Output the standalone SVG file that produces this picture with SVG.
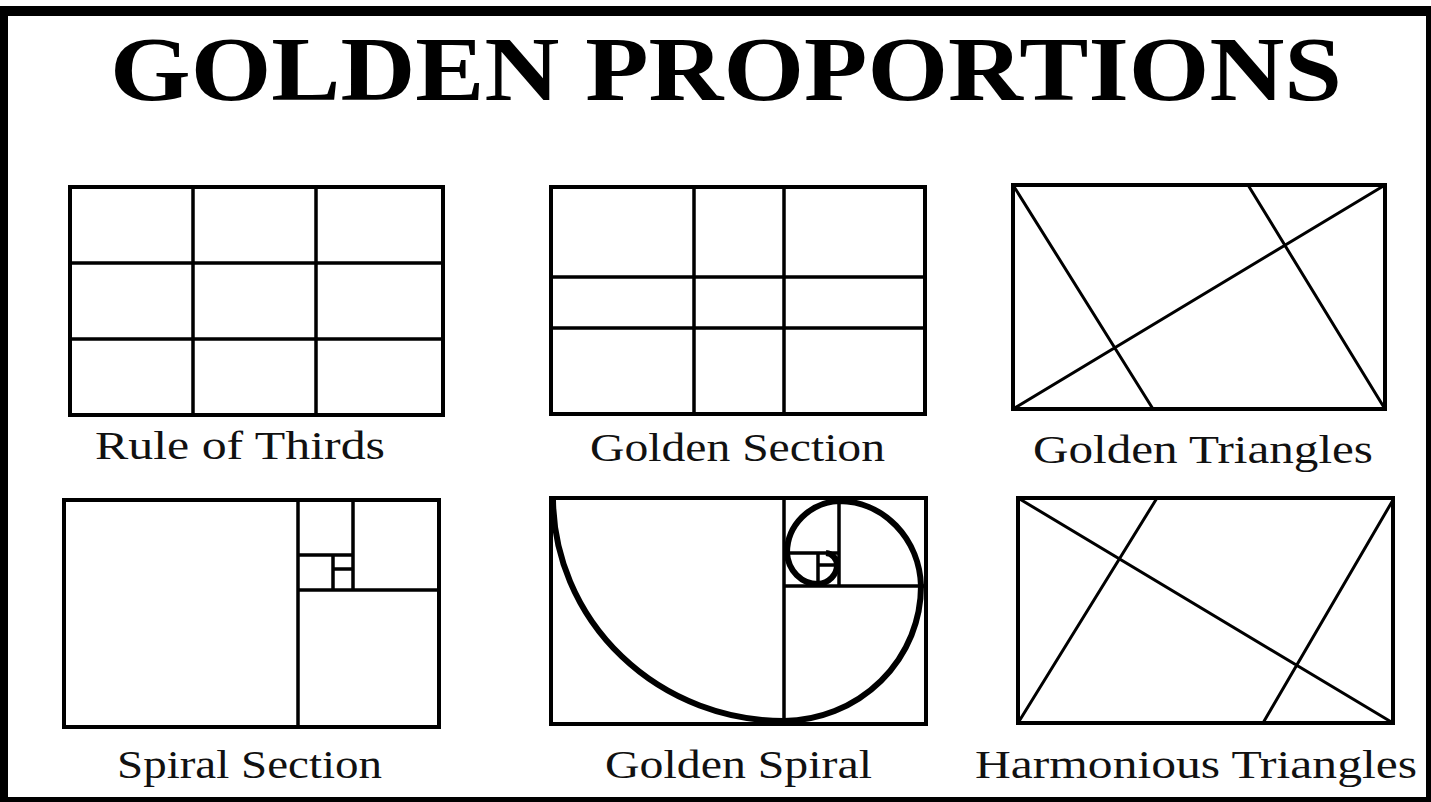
<svg xmlns="http://www.w3.org/2000/svg" width="1431" height="802" viewBox="0 0 1431 802">
<style>
.frame{fill:none;stroke:#000;stroke-width:4}
.ln{fill:none;stroke:#000;stroke-width:3.5;stroke-linecap:square}
.diag{fill:none;stroke:#000;stroke-width:3}
.sp{fill:none;stroke:#000;stroke-width:6}
.lbl{font-family:"Liberation Serif","Times New Roman",serif;font-size:40px;fill:#111}
.title{font-family:"Liberation Serif","Times New Roman",serif;font-size:92px;font-weight:bold;fill:#000}
</style>
<rect width="1431" height="802" fill="#fff"/>
<g id="border" fill="#000">
<rect x="0" y="6" width="1431" height="10"/>
<rect x="0" y="6" width="8" height="796"/>
<rect x="1426" y="6" width="5" height="796"/>
<rect x="0" y="797" width="1431" height="5"/>
</g>
<text id="title" class="title" x="110" y="100" textLength="1232" lengthAdjust="spacingAndGlyphs">GOLDEN PROPORTIONS</text>

<g id="rule-of-thirds">
<rect class="frame" x="70" y="187" width="373" height="228"/>
<path class="ln" d="M193 187V415M316 187V415M70 263H443M70 339H443"/>
<text class="lbl" x="95" y="459" textLength="290" lengthAdjust="spacingAndGlyphs">Rule of  Thirds</text>
</g>

<g id="golden-section">
<rect class="frame" x="551" y="187" width="374" height="227"/>
<path class="ln" d="M694 187V414M784 187V414M551 277H925M551 328H925"/>
<text class="lbl" x="590" y="461" textLength="295" lengthAdjust="spacingAndGlyphs">Golden Section</text>
</g>

<g id="golden-triangles">
<rect class="frame" x="1013" y="185" width="372" height="224"/>
<path class="diag" d="M1013 409L1385 185M1013 185L1153 409M1248 185L1385 409"/>
<text class="lbl" x="1033" y="463" textLength="340" lengthAdjust="spacingAndGlyphs">Golden Triangles</text>
</g>

<g id="spiral-section">
<rect class="frame" x="64" y="500" width="375" height="227"/>
<path class="ln" d="M298 500V727M298 590H439M353 500V590M298 555H353M333 555V590M333 569H353"/>
<text class="lbl" x="117" y="778" textLength="265" lengthAdjust="spacingAndGlyphs">Spiral Section</text>
</g>

<g id="golden-spiral">
<rect class="frame" x="551" y="498" width="375" height="226"/>
<path class="ln" d="M784 498V724M784 586H926M839 498V586M784 553H839M818 553V586M818 565H839"/>
<path class="sp" d="M553 500A231 224 0 0 0 784 721A139 135 0 0 0 921 586A82 88 0 0 0 839 501A55 52 0 0 0 787 553A31 33 0 0 0 818 584A21 19 0 0 0 837 565A12 12 0 0 0 826 553"/>
<text class="lbl" x="605" y="778" textLength="267" lengthAdjust="spacingAndGlyphs">Golden Spiral</text>
</g>

<g id="harmonious-triangles">
<rect class="frame" x="1018" y="498" width="375" height="225"/>
<path class="diag" d="M1018 498L1393 723M1018 723L1157 498M1393 500L1263 723"/>
<text class="lbl" x="975" y="778" textLength="442" lengthAdjust="spacingAndGlyphs">Harmonious Triangles</text>
</g>
</svg>
